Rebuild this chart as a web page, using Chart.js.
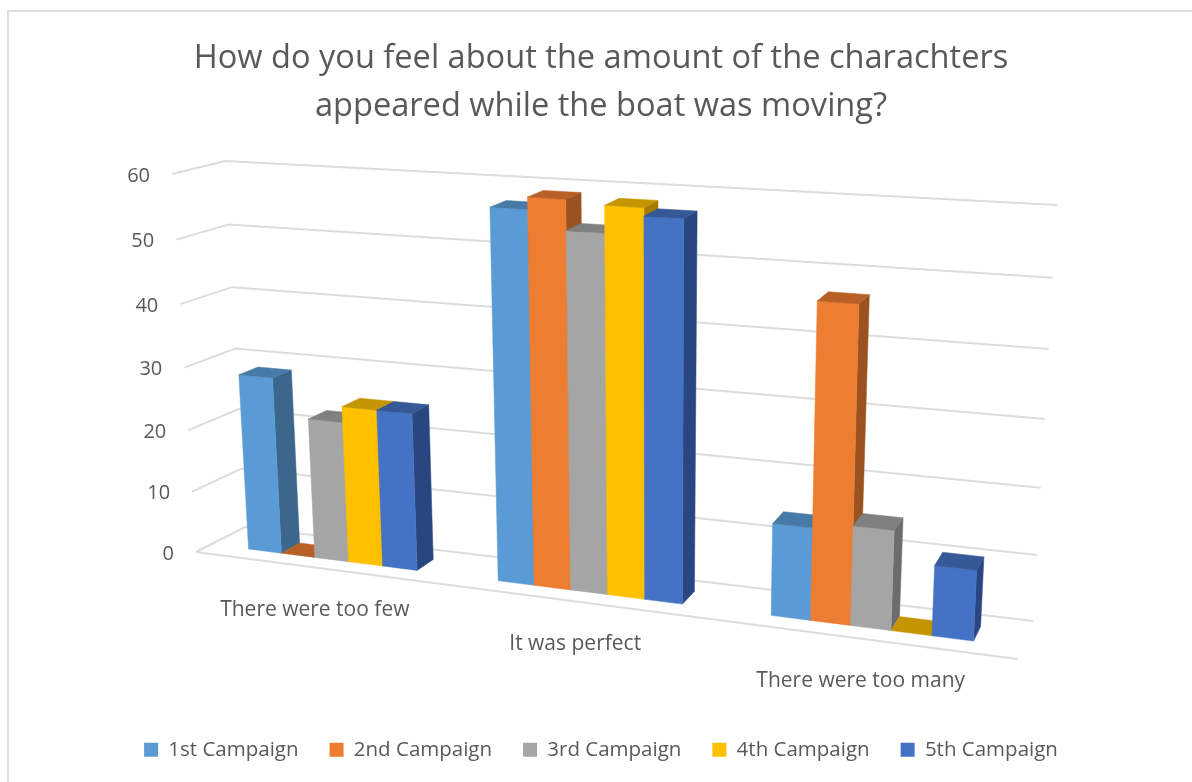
<!DOCTYPE html>
<html>
<head>
<meta charset="utf-8">
<title>Campaign survey</title>
<script src="https://cdn.jsdelivr.net/npm/chart.js@4"></script>
<style>
    html, body { margin: 0; padding: 0; background: #fff; overflow: hidden; }
    #wrap { position: relative; width: 1192px; height: 782px; }
    #frame { position: absolute; left: 7px; top: 10px; width: 1300px; height: 900px; border: 2px solid #dedede; }
    #chart-feel { position: absolute; left: 0; top: 0; }
</style>
</head>
<body>
<div id="wrap">
    <div id="frame"></div>
    <canvas id="chart-feel" width="1192" height="782"></canvas>
</div>
<script>
const categories = ['There were too few', 'It was perfect', 'There were too many'];
const campaign1 = [28.5, 57.2, 14];
const campaign2 = [0, 59, 47];
const campaign3 = [22.5, 54.5, 15];
const campaign4 = [25, 58.5, 0];
const campaign5 = [25, 57.3, 10.5];
const valueTicks = [0, 10, 20, 30, 40, 50, 60];
const titleLines = ['How do you feel about the amount of the charachters', 'appeared while the boat was moving?'];

// face colours: front, top, side
const fronts = ['#5b9bd5', '#ed7d31', '#a5a5a5', '#ffc000', '#4472c4'];
const tops = ['#487aa8', '#b86025', '#808080', '#c49500', '#355896'];
const sides = ['#3c668c', '#9a5320', '#6c6c6c', '#a67c00', '#2a4680'];

// corners of the front and back planes of the box (bottom-left, bottom-right, top-right, top-left)
function squareToQuad(q) {
    const [x0, y0] = q[0], [x1, y1] = q[1], [x2, y2] = q[2], [x3, y3] = q[3];
    const dx1 = x1 - x2, dx2 = x3 - x2, sx = x0 - x1 + x2 - x3;
    const dy1 = y1 - y2, dy2 = y3 - y2, sy = y0 - y1 + y2 - y3;
    const d = dx1 * dy2 - dx2 * dy1;
    const g = (sx * dy2 - dx2 * sy) / d;
    const h = (dx1 * sy - sx * dy1) / d;
    return (u, v) => {
        const n = g * u + h * v + 1;
        return [((x1 - x0 + g * x1) * u + (x3 - x0 + h * x3) * v + x0) / n,
                ((y1 - y0 + g * y1) * u + (y3 - y0 + h * y3) * v + y0) / n];
    };
}
const frontPlane = squareToQuad([[196, 552], [1017, 659], [1037, 228], [172, 174]]);
const backPlane = squareToQuad([[245, 527], [1033, 621], [1057, 205], [225, 161]]);
function project(u, v, w) {
    const a = frontPlane(u, v), b = backPlane(u, v);
    return [a[0] + (b[0] - a[0]) * w, a[1] + (b[1] - a[1]) * w];
}

const barFrontW = 0.31;
const barBackW = 0.70;

function poly(ctx, pts, color) {
    ctx.beginPath();
    pts.forEach((p, i) => i ? ctx.lineTo(p[0], p[1]) : ctx.moveTo(p[0], p[1]));
    ctx.closePath();
    ctx.fillStyle = color;
    ctx.fill();
    ctx.strokeStyle = color;
    ctx.lineWidth = 0.5;
    ctx.stroke();
}
function line(ctx, pts) {
    ctx.beginPath();
    pts.forEach((p, i) => i ? ctx.lineTo(p[0], p[1]) : ctx.moveTo(p[0], p[1]));
    ctx.strokeStyle = '#dcdcdc';
    ctx.lineWidth = 2;
    ctx.stroke();
}

// Chart.js has no 3D bars, so the bar elements are redrawn through the box projection
const box3d = {
    id: 'box3d',
    beforeDatasetsDraw(chart) {
        const ctx = chart.ctx, area = chart.chartArea, yScale = chart.scales.y, xScale = chart.scales.x;
        const toU = x => (x - area.left) / (area.right - area.left);
        const toV = y => (area.bottom - y) / (area.bottom - area.top);
        ctx.save();

        // walls and floor
        valueTicks.forEach(t => {
            const v = toV(yScale.getPixelForValue(t));
            line(ctx, [project(0, v, 0), project(0, v, 1), project(1, v, 1)]);
        });
        line(ctx, [project(0, 0, 0), project(1, 0, 0)]);

        // axis text
        ctx.fillStyle = '#595959';
        ctx.font = '20px "Open Sans"';
        ctx.textBaseline = 'middle';
        ctx.textAlign = 'right';
        valueTicks.forEach(t => {
            const p = project(0, toV(yScale.getPixelForValue(t)), 0);
            ctx.fillText(String(t), p[0] - 22, p[1] + 2);
        });
        ctx.textAlign = 'center';
        ctx.font = '21px "Open Sans"';
        categories.forEach((c, i) => {
            const p = project(toU(xScale.getPixelForValue(i)), 0, 0);
            ctx.fillText(c, p[0] - 3, p[1] + 42);
        });

        // left to right, each bar covers the side of the one before it
        categories.forEach((c, i) => {
            chart.data.datasets.forEach((ds, d) => {
                const bar = chart.getDatasetMeta(d).data[i];
                const u0 = toU(bar.x - bar.width / 2), u1 = toU(bar.x + bar.width / 2);
                const v0 = toV(bar.base), v1 = toV(bar.y);
                const w0 = barFrontW, w1 = barBackW;
                if (v1 > v0) {
                    poly(ctx, [project(u1, v0, w0), project(u1, v1, w0), project(u1, v1, w1), project(u1, v0, w1)], sides[d]);
                    poly(ctx, [project(u0, v0, w0), project(u1, v0, w0), project(u1, v1, w0), project(u0, v1, w0)], fronts[d]);
                }
                poly(ctx, [project(u0, v1, w0), project(u1, v1, w0), project(u1, v1, w1), project(u0, v1, w1)], tops[d]);
            });
        });
        ctx.restore();
        return false;
    }
};

const seriesNames = ['1st Campaign', '2nd Campaign', '3rd Campaign', '4th Campaign', '5th Campaign'];
const seriesValues = [campaign1, campaign2, campaign3, campaign4, campaign5];

new Chart(document.getElementById('chart-feel'), {
    type: 'bar',
    data: {
        labels: categories,
        datasets: seriesNames.map((name, i) => ({
            label: name,
            data: seriesValues[i],
            backgroundColor: fronts[i],
            categoryPercentage: 0.685,
            barPercentage: 1
        }))
    },
    plugins: [box3d],
    options: {
        responsive: false,
        animation: false,
        layout: { padding: { left: 10, bottom: 12 } },
        scales: {
            x: { display: false },
            y: { display: false, min: 0, max: 60, ticks: { stepSize: 10 } }
        },
        plugins: {
            tooltip: { enabled: false },
            title: {
                display: true,
                text: titleLines,
                color: '#595959',
                font: { family: '"Open Sans"', size: 32.6, weight: 'normal', lineHeight: 1.47 },
                padding: { top: 35, bottom: 20 }
            },
            legend: {
                position: 'bottom',
                labels: {
                    color: '#595959',
                    font: { family: '"Open Sans"', size: 20.5 },
                    boxWidth: 14,
                    boxHeight: 14,
                    padding: 31
                }
            }
        }
    }
});
</script>
</body>
</html>
